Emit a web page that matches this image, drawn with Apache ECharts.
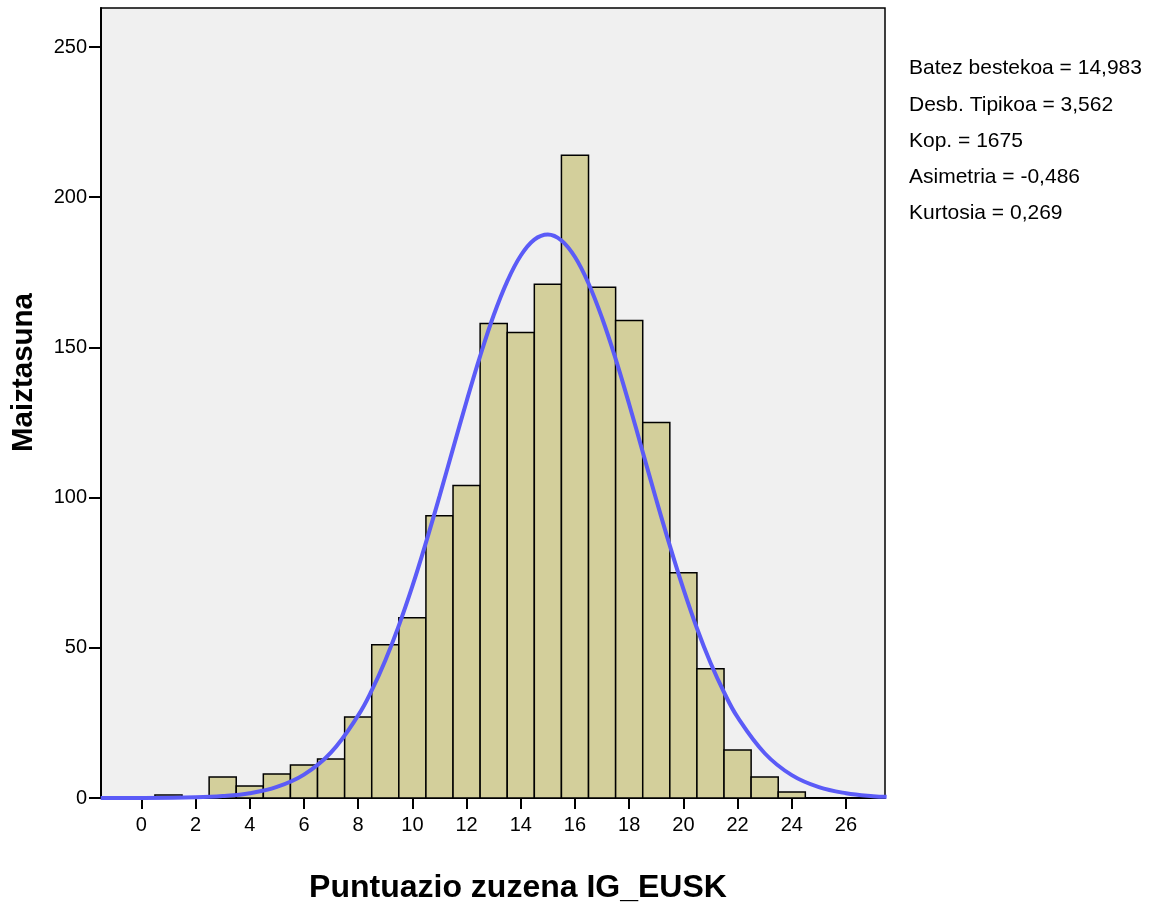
<!DOCTYPE html>
<html>
<head>
<meta charset="utf-8">
<script src="https://cdn.jsdelivr.net/npm/echarts@6/dist/echarts.min.js"></script>
<style>
html,body{margin:0;padding:0;background:#fff;}
#chart{width:1155px;height:903px;}
</style>
</head>
<body>
<div id="chart"></div>
<script>
// Histogram bins (bin centre) and frequencies
const binCenters = [1, 3, 4, 5, 6, 7, 8, 9, 10, 11, 12, 13, 14, 15, 16, 17, 18, 19, 20, 21, 22, 23, 24];
const frequencies = [1, 7, 4, 8, 11, 13, 27, 51, 60, 94, 104, 158, 155, 171, 214, 170, 159, 125, 75, 43, 16, 7, 2];

// Normal curve points
const curveX = [-1.5, 0, 2, 3, 4, 5, 6, 7, 8, 8.5, 9, 9.5, 10, 10.5, 11, 11.5, 12, 12.5, 13, 13.5, 14, 14.5, 15, 15.5, 16, 16.5, 17, 17.5, 18, 18.5, 19, 19.5, 20, 20.5, 21, 21.5, 22, 23, 24, 25, 26, 27, 27.5];
const curveY = [0.0, 0.03, 0.25, 0.65, 1.6, 3.7, 7.8, 15.2, 27.5, 35.8, 45.8, 57.4, 70.5, 85.0, 100.4, 116.3, 132.1, 147.1, 160.7, 172.0, 180.6, 185.9, 187.6, 185.6, 180.1, 171.3, 159.8, 146.2, 131.1, 115.2, 99.3, 84.0, 69.6, 56.5, 45.0, 35.2, 26.9, 14.9, 7.6, 3.6, 1.6, 0.6, 0.4];

const xTickLabels = [0, 2, 4, 6, 8, 10, 12, 14, 16, 18, 20, 22, 24, 26];
const yTickLabels = [0, 50, 100, 150, 200, 250];

const statsLines = [
  'Batez bestekoa = 14,983',
  'Desb. Tipikoa = 3,562',
  'Kop. = 1675',
  'Asimetria = -0,486',
  'Kurtosia = 0,269'
];

const xTitle = 'Puntuazio zuzena IG_EUSK';
const yTitle = 'Maiztasuna';

const chart = echarts.init(document.getElementById('chart'));
const FONT = 'Liberation Sans, Arial, sans-serif';

const statsGraphics = statsLines.map((t, i) => ({
  type: 'text',
  left: 909,
  top: 58 + i * 36.3,
  style: { text: t, fill: '#000', font: '21px ' + FONT }
}));

chart.setOption({
  animation: false,
  grid: {
    left: 101, right: 270, top: 8, bottom: 105,
    containLabel: false, outerBoundsMode: 'none',
    show: true, backgroundColor: '#f0f0f0', borderColor: '#000', borderWidth: 1.5
  },
  xAxis: {
    type: 'value', min: -1.49, max: 27.44,
    name: xTitle, nameLocation: 'middle', nameGap: 74,
    nameTextStyle: { fontFamily: FONT, fontWeight: 'bold', fontSize: 32, color: '#000', padding: [0, 0, 0, 50] },
    axisLine: { show: true, onZero: false, lineStyle: { color: '#000', width: 2 } },
    axisTick: { show: true, customValues: xTickLabels, length: 11, lineStyle: { color: '#000', width: 2 } },
    axisLabel: { customValues: xTickLabels, fontFamily: FONT, fontSize: 20, color: '#000', margin: 17 },
    splitLine: { show: false }
  },
  yAxis: {
    type: 'value', min: 0, max: 263,
    name: yTitle, nameLocation: 'middle', nameGap: 62, nameRotate: 90,
    nameTextStyle: { fontFamily: FONT, fontWeight: 'bold', fontSize: 29.5, color: '#000', padding: [0, 0, 0, 61] },
    axisLine: { show: true, onZero: false, lineStyle: { color: '#000', width: 2 } },
    axisTick: { show: true, customValues: yTickLabels, length: 12, lineStyle: { color: '#000', width: 2 } },
    axisLabel: { customValues: yTickLabels, fontFamily: FONT, fontSize: 20, color: '#000', margin: 14 },
    splitLine: { show: false }
  },
  graphic: statsGraphics,
  series: [
    {
      type: 'custom',
      data: binCenters.map((c, i) => [c, frequencies[i]]),
      renderItem: function (params, api) {
        const x = api.value(0), y = api.value(1);
        const p0 = api.coord([x - 0.5, y]);
        const p1 = api.coord([x + 0.5, 0]);
        return {
          type: 'rect',
          shape: { x: p0[0], y: p0[1], width: p1[0] - p0[0], height: p1[1] - p0[1] },
          style: { fill: '#d3cf9b', stroke: '#000', lineWidth: 1.5 }
        };
      },
      z: 2
    },
    {
      type: 'line',
      data: curveX.map((x, i) => [x, curveY[i]]),
      smooth: 0.4,
      showSymbol: false,
      symbol: 'none',
      clip: true,
      lineStyle: { color: '#5b5bf7', width: 4 },
      z: 3
    }
  ]
});
</script>
</body>
</html>
